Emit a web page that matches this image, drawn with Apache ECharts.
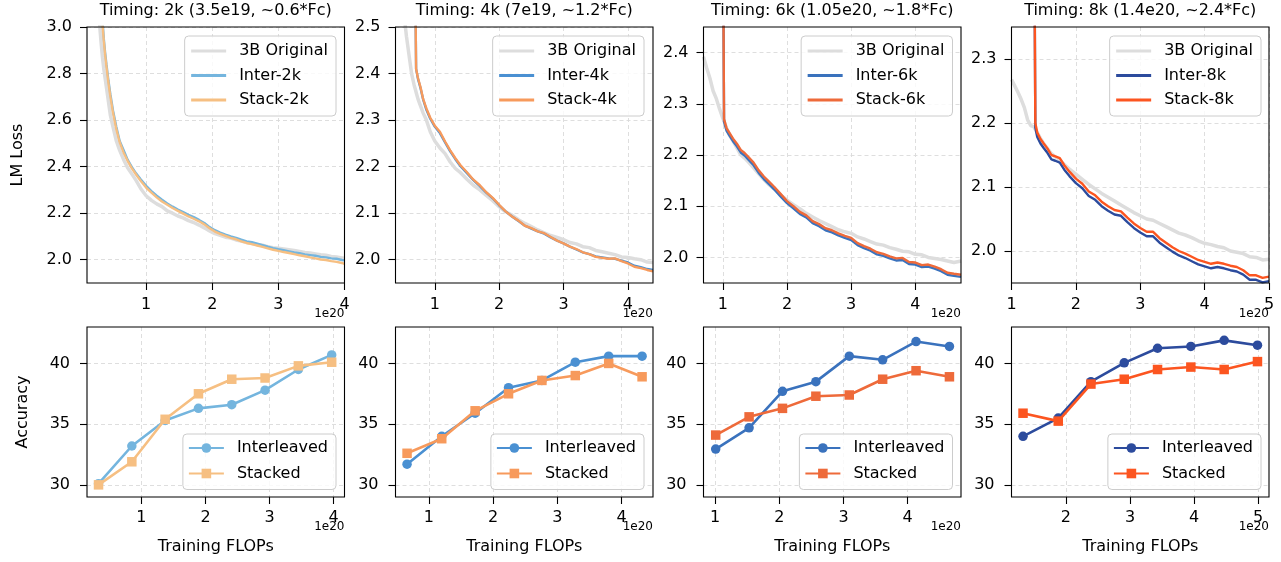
<!DOCTYPE html>
<html><head><meta charset="utf-8">
<script src="https://cdn.jsdelivr.net/npm/echarts@6/dist/echarts.min.js"></script>
<style>html,body{margin:0;padding:0;background:#fff}#c{width:1281px;height:562px}</style>
</head><body><div id="c"></div>
<script>
// ---------- text ----------
const titles = ['Timing: 2k (3.5e19, ~0.6*Fc)', 'Timing: 4k (7e19, ~1.2*Fc)', 'Timing: 6k (1.05e20, ~1.8*Fc)', 'Timing: 8k (1.4e20, ~2.4*Fc)'];
const runs = ['2k', '4k', '6k', '8k'];

// ---------- tick labels ----------
const yTicksTop = [[2.0, 2.2, 2.4, 2.6, 2.8, 3.0], [2.0, 2.1, 2.2, 2.3, 2.4, 2.5], [2.0, 2.1, 2.2, 2.3, 2.4], [2.0, 2.1, 2.2, 2.3]];
const xTicksTop = [[1, 2, 3, 4], [1, 2, 3, 4], [1, 2, 3, 4], [1, 2, 3, 4, 5]];
const yTicksBottom = [30, 35, 40];
const xTicksBottom = [[1, 2, 3, 4], [1, 2, 3, 4], [1, 2, 3, 4], [2, 3, 4, 5]];

// ---------- LM loss curves (x in 1e20 FLOPs) ----------
const lossX2k = [0.28,0.30,0.32,0.34,0.36,0.38,0.40,0.43,0.46,0.50,0.55,0.60,0.66,0.72,0.78,0.85,0.92,1.00,1.08,1.16,1.24,1.32,1.40,1.48,1.56,1.64,1.72,1.80,1.88,1.96,2.04,2.12,2.20,2.28,2.36,2.44,2.52,2.60,2.68,2.76,2.84,2.92,3.00,3.08,3.16,3.24,3.32,3.40,3.48,3.56,3.64,3.72,3.80,3.88,3.96,4.00];
const lossOrig2k = [3.12,3.00,2.93,2.87,2.82,2.78,2.74,2.68,2.62,2.57,2.51,2.47,2.43,2.395,2.37,2.34,2.305,2.275,2.255,2.24,2.228,2.21,2.2,2.188,2.18,2.168,2.16,2.149,2.137,2.124,2.112,2.105,2.097,2.093,2.085,2.08,2.074,2.07,2.065,2.062,2.056,2.052,2.049,2.046,2.043,2.04,2.036,2.031,2.029,2.025,2.021,2.019,2.014,2.012,2.008,2.006];
const lossInter2k = [null,null,null,3.03,2.95,2.89,2.84,2.77,2.71,2.64,2.57,2.51,2.47,2.43,2.40,2.37,2.345,2.318,2.295,2.275,2.258,2.242,2.228,2.216,2.205,2.193,2.183,2.171,2.158,2.14,2.127,2.117,2.108,2.100,2.094,2.086,2.079,2.075,2.069,2.063,2.056,2.05,2.045,2.041,2.036,2.031,2.028,2.023,2.02,2.017,2.012,2.010,2.006,2.004,1.999,1.997];
const lossStack2k = [null,null,null,3.01,2.94,2.88,2.83,2.76,2.70,2.63,2.56,2.505,2.46,2.425,2.395,2.365,2.338,2.31,2.288,2.268,2.25,2.236,2.222,2.21,2.198,2.186,2.176,2.165,2.152,2.135,2.121,2.111,2.102,2.094,2.088,2.079,2.072,2.067,2.061,2.055,2.049,2.043,2.038,2.033,2.029,2.024,2.019,2.015,2.010,2.006,2.001,1.999,1.994,1.991,1.986,1.982];

const lossX4k = [0.52,0.56,0.60,0.64,0.68,0.70,0.71,0.74,0.78,0.82,0.87,0.93,1.00,1.08,1.16,1.24,1.32,1.40,1.50,1.60,1.70,1.80,1.90,2.00,2.10,2.20,2.30,2.40,2.50,2.60,2.70,2.80,2.90,3.00,3.10,3.20,3.30,3.40,3.50,3.60,3.70,3.80,3.90,4.00,4.10,4.20,4.30,4.39];
const lossOrig4k = [2.53,2.48,2.44,2.40,2.375,2.365,2.36,2.345,2.33,2.315,2.30,2.275,2.255,2.24,2.228,2.21,2.196,2.187,2.173,2.16,2.15,2.138,2.127,2.114,2.103,2.096,2.086,2.078,2.071,2.064,2.058,2.052,2.048,2.043,2.037,2.034,2.028,2.026,2.02,2.017,2.014,2.011,2.006,2.005,2.002,2.0,1.995,1.994];
const lossInter4k = [null,null,null,null,null,2.56,2.41,2.388,2.368,2.344,2.322,2.303,2.286,2.272,2.252,2.233,2.216,2.201,2.186,2.171,2.158,2.144,2.132,2.117,2.104,2.093,2.083,2.073,2.067,2.061,2.056,2.048,2.041,2.035,2.028,2.022,2.016,2.012,2.007,2.005,2.003,2.002,1.998,1.994,1.987,1.984,1.98,1.978];
const lossStack4k = [null,null,null,null,null,2.56,2.41,2.39,2.37,2.345,2.325,2.305,2.288,2.275,2.254,2.235,2.218,2.203,2.188,2.172,2.16,2.145,2.133,2.118,2.104,2.093,2.084,2.073,2.068,2.061,2.057,2.049,2.041,2.035,2.028,2.023,2.016,2.012,2.006,2.004,2.002,2.003,1.997,1.992,1.985,1.982,1.978,1.975];

const lossX6k = [0.70,0.75,0.80,0.85,0.90,0.95,1.00,1.01,1.02,1.06,1.10,1.16,1.22,1.28,1.34,1.40,1.48,1.56,1.64,1.72,1.80,1.90,2.00,2.10,2.20,2.30,2.40,2.50,2.60,2.70,2.80,2.90,3.00,3.10,3.20,3.30,3.40,3.50,3.60,3.70,3.80,3.90,4.00,4.10,4.20,4.30,4.40,4.50,4.60,4.71];
const lossOrig6k = [2.392,2.37,2.35,2.325,2.31,2.29,2.272,2.27,2.266,2.252,2.24,2.227,2.214,2.2,2.194,2.186,2.175,2.163,2.152,2.142,2.134,2.122,2.112,2.103,2.095,2.086,2.079,2.072,2.066,2.06,2.054,2.05,2.047,2.04,2.036,2.031,2.026,2.024,2.019,2.016,2.012,2.011,2.006,2.005,2.0,1.998,1.996,1.993,1.99,1.993];
const lossInter6k = [null,null,null,null,null,null,null,2.50,2.265,2.247,2.239,2.227,2.217,2.205,2.199,2.191,2.18,2.165,2.153,2.143,2.133,2.119,2.106,2.096,2.085,2.078,2.067,2.061,2.053,2.049,2.043,2.038,2.034,2.024,2.018,2.013,2.006,2.003,1.998,1.994,1.995,1.987,1.986,1.981,1.982,1.978,1.973,1.966,1.964,1.962];
const lossStack6k = [null,null,null,null,null,null,null,2.50,2.27,2.252,2.244,2.232,2.222,2.21,2.204,2.196,2.185,2.17,2.158,2.148,2.138,2.124,2.11,2.1,2.089,2.082,2.071,2.065,2.057,2.053,2.047,2.042,2.038,2.028,2.022,2.017,2.01,2.007,2.002,1.998,1.999,1.991,1.99,1.985,1.986,1.982,1.977,1.97,1.968,1.966];

const lossX8k = [1.00,1.05,1.10,1.15,1.20,1.25,1.30,1.35,1.36,1.37,1.40,1.45,1.50,1.56,1.62,1.68,1.75,1.82,1.90,2.00,2.10,2.20,2.30,2.40,2.50,2.60,2.70,2.80,2.90,3.00,3.10,3.20,3.30,3.40,3.50,3.60,3.70,3.80,3.90,4.00,4.10,4.20,4.30,4.40,4.50,4.60,4.70,4.80,4.90,5.00];
const lossOrig8k = [2.268,2.258,2.248,2.237,2.224,2.205,2.196,2.194,2.193,2.19,2.185,2.176,2.168,2.16,2.152,2.147,2.142,2.135,2.128,2.12,2.112,2.104,2.097,2.09,2.084,2.078,2.072,2.066,2.06,2.055,2.05,2.048,2.043,2.038,2.033,2.028,2.025,2.021,2.016,2.012,2.01,2.007,2.005,2.0,1.998,1.996,1.991,1.99,1.986,1.987];
const lossInter8k = [null,null,null,null,null,null,null,null,2.40,2.193,2.178,2.168,2.161,2.153,2.143,2.141,2.138,2.127,2.117,2.106,2.098,2.086,2.08,2.07,2.063,2.057,2.055,2.045,2.036,2.029,2.023,2.023,2.013,2.006,1.999,1.993,1.989,1.984,1.979,1.976,1.973,1.975,1.973,1.97,1.968,1.963,1.955,1.955,1.951,1.953];
const lossStack8k = [null,null,null,null,null,null,null,null,2.40,2.2,2.185,2.175,2.168,2.16,2.15,2.148,2.145,2.134,2.124,2.113,2.105,2.093,2.087,2.077,2.07,2.064,2.062,2.052,2.043,2.036,2.03,2.03,2.02,2.013,2.006,2.0,1.996,1.991,1.986,1.983,1.98,1.982,1.98,1.977,1.975,1.97,1.962,1.962,1.958,1.96];

// ---------- accuracy ----------
const accX2k = [0.33,0.85,1.37,1.89,2.41,2.93,3.45,3.97];
const accInter2k = [30.1,33.2,35.3,36.3,36.6,37.8,39.5,40.7];
const accStack2k = [30.0,31.9,35.4,37.5,38.7,38.8,39.8,40.1];
const accX4k = [0.66,1.20,1.72,2.24,2.76,3.28,3.80,4.32];
const accInter4k = [31.7,34.0,35.9,38.0,38.6,40.1,40.6,40.6];
const accStack4k = [32.6,33.8,36.1,37.5,38.6,39.0,40.0,38.9];
const accX6k = [1.01,1.53,2.05,2.57,3.09,3.61,4.13,4.65];
const accInter6k = [32.95,34.7,37.7,38.5,40.6,40.3,41.8,41.4];
const accStack6k = [34.1,35.6,36.3,37.3,37.4,38.7,39.4,38.9];
const accX8k = [1.33,1.88,2.39,2.91,3.43,3.95,4.47,4.99];
const accInter8k = [34.0,35.5,38.5,40.05,41.25,41.4,41.9,41.5];
const accStack8k = [35.9,35.25,38.3,38.7,39.5,39.7,39.5,40.15];

// ---------- assembly ----------
const lossSets = [
  [lossX2k, lossOrig2k, lossInter2k, lossStack2k],
  [lossX4k, lossOrig4k, lossInter4k, lossStack4k],
  [lossX6k, lossOrig6k, lossInter6k, lossStack6k],
  [lossX8k, lossOrig8k, lossInter8k, lossStack8k]
];
const accSets = [
  [accX2k, accInter2k, accStack2k],
  [accX4k, accInter4k, accStack4k],
  [accX6k, accInter6k, accStack6k],
  [accX8k, accInter8k, accStack8k]
];
const interColors = ['#74b5de', '#4a90d2', '#3a72bd', '#2c4b9d'];
const stackColors = ['#f6bf82', '#f79a5c', '#ee6a3a', '#fc5520'];
const origColor = '#dddddd';

const FONT = 'DejaVu Sans';
const FS = 16;
const GL = [87, 395.5, 703.5, 1011.5], GW = 257.5;
const T1 = 27, H1 = 256, T2 = 327, H2 = 170;
const xRangeTop = [[0.106, 4.0], [0.39, 4.39], [0.70, 4.71], [1.0, 5.0]];
const yRangeTop = [[1.9, 3.0], [1.95, 2.5], [1.95, 2.45], [1.95, 2.35]];
const xRangeBot = [[0.15, 4.17], [0.48, 4.49], [0.82, 4.83], [1.15, 5.17]];
const yRangeBot = [29, 43];
const legendRight = [336, 644, 952.5, 1261];

const pair = (xs, ys) => xs.map((x, i) => [x, ys[i] == null ? '-' : ys[i]]);
const split = {show: true, lineStyle: {color: '#dadada', type: [4, 3], width: 0.9}};
const tick = (vals) => ({show: true, length: 7, lineStyle: {color: '#000', width: 1.1}, customValues: vals});
const lab = (vals, margin, fmt) => ({customValues: vals, margin, fontSize: FS, fontFamily: FONT, color: '#000', formatter: fmt, showMinLabel: true, showMaxLabel: true});

const grids = [], xAxes = [], yAxes = [], series = [], legends = [], graphics = [];
for (let c = 0; c < 4; c++) {
  grids.push({left: GL[c], top: T1, width: GW, height: H1, show: true, z: 6, borderColor: '#000', borderWidth: 1.1, backgroundColor: 'transparent', containLabel: false, outerBoundsMode: 'none'});
  grids.push({left: GL[c], top: T2, width: GW, height: H2, show: true, z: 6, borderColor: '#000', borderWidth: 1.1, backgroundColor: 'transparent', containLabel: false, outerBoundsMode: 'none'});
  const gt = 2 * c, gb = 2 * c + 1;
  xAxes.push({type: 'value', gridIndex: gt, min: xRangeTop[c][0], max: xRangeTop[c][1], axisLine: {show: false}, axisTick: tick(xTicksTop[c]), axisLabel: lab(xTicksTop[c], 14, v => String(v)), splitLine: split});
  xAxes.push({type: 'value', gridIndex: gb, min: xRangeBot[c][0], max: xRangeBot[c][1], axisLine: {show: false}, axisTick: tick(xTicksBottom[c]), axisLabel: lab(xTicksBottom[c], 13, v => String(v)), splitLine: split});
  yAxes.push({type: 'value', gridIndex: gt, min: yRangeTop[c][0], max: yRangeTop[c][1], axisLine: {show: false}, axisTick: tick(yTicksTop[c]), axisLabel: lab(yTicksTop[c], 15, v => v.toFixed(1)), splitLine: split});
  yAxes.push({type: 'value', gridIndex: gb, min: yRangeBot[0], max: yRangeBot[1], axisLine: {show: false}, axisTick: tick(yTicksBottom), axisLabel: lab(yTicksBottom, 17, v => String(v)), splitLine: split});

  const [lx, lo, li, ls] = lossSets[c];
  const r = runs[c];
  const nO = '3B Original|' + r, nI = 'Inter-' + r, nS = 'Stack-' + r;
  series.push({type: 'line', name: nO, xAxisIndex: gt, yAxisIndex: gt, data: pair(lx, lo), symbol: 'none', showSymbol: false, lineStyle: {color: origColor, width: 3.5}, itemStyle: {color: origColor}, z: 2, silent: true});
  series.push({type: 'line', name: nI, xAxisIndex: gt, yAxisIndex: gt, data: pair(lx, li), symbol: 'none', showSymbol: false, lineStyle: {color: interColors[c], width: 2.4}, itemStyle: {color: interColors[c]}, z: 3, silent: true});
  series.push({type: 'line', name: nS, xAxisIndex: gt, yAxisIndex: gt, data: pair(lx, ls), symbol: 'none', showSymbol: false, lineStyle: {color: stackColors[c], width: 2.4}, itemStyle: {color: stackColors[c]}, z: 4, silent: true});

  const [ax, ai, as] = accSets[c];
  const bI = 'Interleaved|' + r, bS = 'Stacked|' + r;
  series.push({type: 'line', name: bI, xAxisIndex: gb, yAxisIndex: gb, data: pair(ax, ai), symbol: 'circle', symbolSize: 9.5, showSymbol: true, lineStyle: {color: interColors[c], width: 2.6}, itemStyle: {color: interColors[c]}, z: 3, silent: true});
  series.push({type: 'line', name: bS, xAxisIndex: gb, yAxisIndex: gb, data: pair(ax, as), symbol: 'rect', symbolSize: 9.5, showSymbol: true, lineStyle: {color: stackColors[c], width: 2.6}, itemStyle: {color: stackColors[c]}, z: 4, silent: true});

  const legBase = {orient: 'vertical', formatter: n => n.split('|')[0], selectedMode: false,
    backgroundColor: 'rgba(255,255,255,0.8)', borderColor: '#cccccc', borderWidth: 1, borderRadius: 4,
    itemWidth: 35, textStyle: {fontSize: FS, fontFamily: FONT, color: '#000', padding: [0, 0, 0, 8]}};
  legends.push(Object.assign({}, legBase, {right: 1281 - legendRight[c], top: 36, data: [nO, nI, nS], itemHeight: 14, itemGap: 8.5, padding: [7, 8, 8, 5],
    lineStyle: {width: 3}, itemStyle: {color: 'rgba(0,0,0,0)', borderColor: 'rgba(0,0,0,0)', borderWidth: 0, opacity: 0}}));
  legends.push(Object.assign({}, legBase, {right: 1281 - legendRight[c], top: 434, data: [bI, bS], itemHeight: 12, itemGap: 9.5, padding: [6, 8, 8, 5]}));

  const cx = GL[c] + GW / 2, rx = GL[c] + GW;
  graphics.push({type: 'text', x: cx, y: 11, style: {text: titles[c], fontSize: FS, fontFamily: FONT, fill: '#000', align: 'center', verticalAlign: 'middle'}});
  graphics.push({type: 'text', x: rx, y: 314, style: {text: '1e20', fontSize: 12, fontFamily: FONT, fill: '#000', align: 'right', verticalAlign: 'middle'}});
  graphics.push({type: 'text', x: rx, y: 527, style: {text: '1e20', fontSize: 12, fontFamily: FONT, fill: '#000', align: 'right', verticalAlign: 'middle'}});
  graphics.push({type: 'text', x: cx, y: 547, style: {text: 'Training FLOPs', fontSize: FS, fontFamily: FONT, fill: '#000', align: 'center', verticalAlign: 'middle'}});
}
graphics.push({type: 'text', x: 18, y: 155, rotation: Math.PI / 2, style: {text: 'LM Loss', fontSize: FS, fontFamily: FONT, fill: '#000', align: 'center', verticalAlign: 'middle'}});
graphics.push({type: 'text', x: 23, y: 412, rotation: Math.PI / 2, style: {text: 'Accuracy', fontSize: FS, fontFamily: FONT, fill: '#000', align: 'center', verticalAlign: 'middle'}});

const chart = echarts.init(document.getElementById('c'), null, {renderer: 'canvas'});
chart.setOption({
  animation: false,
  backgroundColor: '#ffffff',
  textStyle: {fontFamily: FONT},
  grid: grids, xAxis: xAxes, yAxis: yAxes, series, legend: legends,
  graphic: {elements: graphics}
});
</script></body></html>
